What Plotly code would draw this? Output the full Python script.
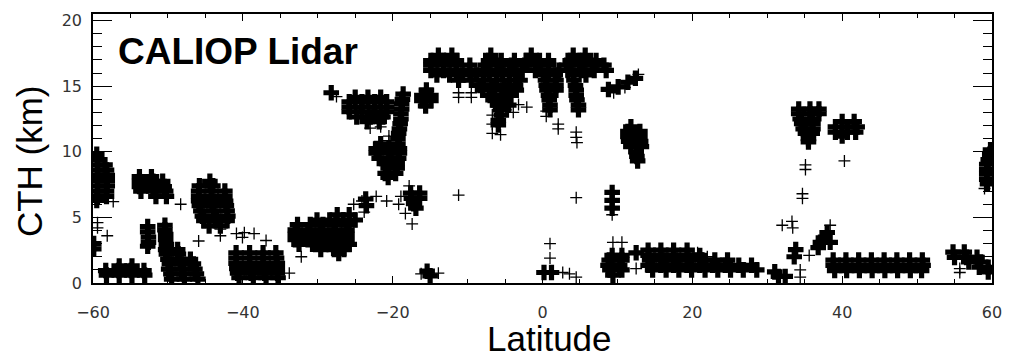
import plotly.graph_objects as go

# ---------------- data ----------------
# Dense cloud features: rows of (CTH km, [latitudes of detections])
left_column = [(9.8, [-59.5]), (9.4, [-59.4]), (9.0, [-59.4, -58.4]), (8.6, [-59.4, -58.2]),
               (8.2, [-59.4, -58.1]), (7.8, [-59.4, -58.1]), (7.4, [-59.4, -58.1]),
               (7.0, [-59.4, -58.2]), (6.6, [-59.4, -58.2]), (6.3, [-59.5]),
               (3.0, [-59.9]), (2.6, [-59.9])]
low_58S = [(1.3, [-56.5, -54.8]), (0.95, [-58.3, -56.6, -54.9, -53.2]), (0.6, [-58.2, -56.5, -54.8, -53.1])]
mid_52S = [(8.1, [-53.8, -52.2]), (7.75, [-53.8, -52.0, -50.7]), (7.35, [-53.8, -52.0, -50.5]),
           (7.0, [-53.6, -51.9, -50.3]), (6.6, [-51.6, -50.2])]
col_52S = [(4.3, [-52.7]), (3.9, [-52.7]), (3.5, [-52.6]), (3.1, [-52.6]), (2.8, [-52.7])]
slope_50S = [(4.4, [-50.4]), (4.05, [-50.4]), (3.7, [-50.3]), (3.3, [-50.3]), (2.95, [-50.2]),
             (2.55, [-50.3, -48.7]), (2.2, [-50.2, -48.6]), (1.8, [-50.0, -48.4, -47.0]),
             (1.45, [-49.8, -48.2, -46.6]), (1.05, [-49.9, -48.2, -46.4]),
             (0.7, [-49.6, -47.9, -46.2]), (0.3, [-49.5, -47.8, -46.0])]
mid_44S = [(7.75, [-44.4]), (7.4, [-45.8, -44.0]), (7.0, [-45.9, -44.2, -42.4]),
           (6.6, [-45.9, -44.2, -42.4]), (6.25, [-45.9, -44.2, -42.3]), (5.9, [-45.8, -44.1, -42.2]),
           (5.5, [-45.6, -43.9, -42.1]), (5.1, [-45.4, -43.7, -42.0]), (4.75, [-45.2, -43.5, -42.1]),
           (4.35, [-44.5, -43.0])]
low_38S = [(2.3, [-40.9, -39.1, -37.3, -35.6]), (1.9, [-40.9, -39.1, -37.3, -35.5]),
           (1.5, [-40.9, -39.1, -37.3, -35.4]), (1.1, [-40.8, -39.0, -37.2, -35.4]),
           (0.75, [-40.7, -38.9, -37.1, -35.4]), (0.4, [-40.5, -38.6, -36.9, -35.3])]
rise_30S = [(5.2, [-27.4, -25.8]), (4.8, [-30.1, -28.4, -26.6, -25.0]),
            (4.45, [-32.7, -31.0, -29.3, -27.6, -25.8]), (4.05, [-33.0, -31.3, -29.6, -27.8, -26.1]),
            (3.7, [-33.0, -31.3, -29.6, -27.8, -26.1]), (3.3, [-33.0, -31.3, -29.6, -27.8, -26.1]),
            (2.95, [-32.5, -30.7, -29.0, -27.3, -25.8]), (2.55, [-29.6, -27.8, -26.5]), (2.25, [-27.2])]
mid_20S = [(6.4, [-23.6]), (5.9, [-23.5]), (6.85, [-17.6, -16.4]), (6.45, [-17.5, -16.4]),
           (6.05, [-17.2]), (5.7, [-16.9]), (0.9, [-15.4]), (0.55, [-15.0])]
high_25S = [(14.5, [-28.2]), (14.15, [-25.0, -23.3, -21.6]), (13.8, [-25.8, -24.1, -22.4, -20.8]),
            (13.4, [-25.8, -24.1, -22.4, -20.8]), (13.05, [-25.8, -24.1, -22.4, -20.8]),
            (12.65, [-24.8, -23.0, -21.3]), (12.3, [-23.4, -21.8])]
column_19S = [(14.4, [-18.6]), (14.0, [-18.7]), (13.65, [-18.8]), (13.25, [-18.8]), (12.9, [-18.9]),
              (12.5, [-18.9]), (12.15, [-19.0]), (11.75, [-19.1]), (11.4, [-19.2]), (11.0, [-19.3]),
              (10.6, [-21.6, -19.3]), (10.25, [-22.2, -20.5, -19.1]), (9.9, [-22.2, -20.5, -19.1]),
              (9.5, [-21.8, -20.2, -19.2]), (9.1, [-20.8, -19.4]), (8.75, [-20.6, -19.4]),
              (8.35, [-21.0, -19.6]), (8.05, [-20.6])]
high_15S = [(14.7, [-15.5]), (14.3, [-16.1, -14.9]), (13.9, [-16.1, -14.9]), (13.5, [-15.6])]
high_band = [(17.35, [-13.9, -12.1, -6.9, -1.5, 4.1, 5.7]),
             (16.95, [-14.9, -13.2, -11.5, -7.2, -5.5, -3.75, -2.1, -0.4, 0.8, 3.7, 5.4, 7.15]),
             (16.6, [-14.9, -13.2, -11.5, -9.7, -7.6, -5.9, -4.15, -2.4, -0.95, 0.8, 3.2, 4.9, 6.6, 8.2]),
             (16.2, [-14.9, -13.2, -11.5, -9.7, -7.9, -6.1, -4.4, -2.7, -0.95, 0.8, 2.2, 3.4, 5.2, 6.9, 8.5]),
             (15.85, [-14.1, -12.4, -10.7, -8.8, -7.1, -5.35, -3.6, 0.1, 1.7, 4.1, 5.8]),
             (15.45, [-11.2, -9.5, -7.8, -6.1, -4.4, -3.0, 0.4, 1.8, 4.2]),
             (15.05, [-8.3, -6.7, -5.1, -3.6, 0.5, 1.8, 4.4]),
             (14.7, [-8.0, -6.4, -4.8, -3.5, 0.6, 1.8, 4.5]),
             (14.3, [-7.0, -5.4, -4.2, 0.8, 4.5]), (13.95, [-6.6, -5.0, 0.9, 4.6]),
             (13.55, [-6.0, -4.5, 1.0, 4.8]), (13.2, [-5.6, 1.0, 4.8]), (12.8, [-5.5]),
             (12.4, [-5.9]), (12.05, [-5.9]),
             (14.75, [8.8]), (14.95, [10.1]), (15.3, [11.4]), (15.6, [12.4])]
high_12N = [(11.9, [11.8]), (11.55, [11.4, 13.0]), (11.15, [11.4, 13.0]), (10.8, [11.5, 13.1]),
            (10.4, [11.8, 13.2]), (10.0, [12.5]), (9.65, [12.6]), (9.3, [12.7])]
low_eq = [(0.8, [0.2, 1.2]), (6.9, [9.3]), (6.3, [9.3]), (5.7, [9.3]),
          (2.1, [9.3, 10.6]), (1.75, [8.9, 10.6]), (1.35, [8.75, 10.3]), (1.0, [9.0, 10.6]),
          (0.6, [9.4]), (2.3, [12.5])]
low_20N = [(2.5, [14.1, 15.8, 17.5, 19.3]), (2.1, [14.1, 15.8, 17.5, 19.3, 21.0]),
           (1.75, [14.3, 16.1, 17.8, 19.5, 21.3, 23.0, 24.7]),
           (1.35, [14.1, 15.8, 17.5, 19.3, 21.0, 22.7, 24.4, 26.2, 27.9]),
           (1.0, [14.7, 16.5, 18.2, 19.9, 21.7, 23.4, 25.1, 26.8, 28.6]),
           (0.85, [31.0]), (0.5, [31.5, 32.4]), (2.55, [33.8]), (2.0, [33.6])]
high_35N = [(13.25, [34.2, 35.7, 36.9]), (12.9, [34.2, 35.7, 36.9]), (12.5, [34.4, 36.0]),
            (12.15, [34.6, 36.1]), (11.75, [34.8, 36.1]), (11.4, [35.1, 36.0]), (11.0, [35.5]),
            (10.75, [35.5]),
            (12.3, [40.0, 41.6]), (11.9, [39.1, 40.7, 42.0]), (11.5, [39.1, 40.7, 41.8]), (11.2, [40.0])]
low_45N = [(3.85, [38.0]), (3.45, [37.5]), (3.1, [37.1, 38.4]), (2.7, [36.8]),
           (1.75, [38.8, 40.5, 42.2, 43.9, 45.6, 47.3, 49.0, 50.7]),
           (1.35, [38.8, 40.5, 42.2, 43.9, 45.6, 47.3, 49.0, 50.8]),
           (0.95, [39.0, 40.6, 42.3, 44.0, 45.7, 47.4, 49.1, 50.6])]
edge_60N = [(2.35, [54.8, 56.3]), (1.95, [55.0, 56.6, 58.0]), (1.6, [56.9, 58.5]), (1.2, [58.3, 59.5]),
            (0.85, [59.5]),
            (10.15, [59.8]), (9.8, [59.7]), (9.4, [59.5]), (9.05, [59.3]), (8.65, [59.3]),
            (8.3, [59.3]), (7.9, [59.3]), (7.55, [59.4])]

# Isolated single detections
single_lat = [-57.3, -59.4, -59.4, -58.1, -48.3, -45.9, -43.0, -43.0, -40.85, -39.8, -38.5, -36.9,
              -40.05, -33.8, -32.2, -25.2, -24.1, -22.2, -20.8, -18.9, -19.2, -23.8, -17.8, -17.4,
              -18.3, -13.9, -16.2, -27.5, -23.0, -21.6, -20.5, -20.5, -11.2, -11.2, -9.5, -9.5, -7.3,
              -6.7, -6.7, -6.7, -5.6, -4.9, -3.9, -3.2, -2.1, 0.5, 0.5, 2.1, 2.1, 4.5, 4.5, 4.6,
              9.5, 11.0, 12.8, -11.2, 4.5, 1.0, 1.0, 2.7, 3.6, 4.5, 9.3, 9.4, 10.6, 12.5, 22.0,
              20.7, 34.4, 34.4, 32.0, 33.3, 33.4, 34.7, 34.7, 35.1, 35.1, 40.3, 38.4, 35.6, 55.7,
              55.7, 59.0]
single_cth = [6.2, 4.6, 4.2, 3.6, 6.0, 3.2, 4.1, 3.6, 3.77, 3.84, 3.77, 3.24,
              3.47, 0.75, 2.0, 6.0, 6.25, 6.6, 6.25, 6.6, 6.0, 5.4, 7.4, 4.5,
              5.3, 0.75, 0.7, 14.2, 11.8, 11.9, 11.2, 10.85, 14.5, 14.15, 14.5, 14.15, 14.3,
              12.8, 12.1, 11.4, 11.3, 13.2, 13.0, 13.6, 13.4, 13.1, 12.7, 12.1, 11.75, 11.5, 11.1, 10.7,
              14.5, 14.9, 15.9, 6.7, 6.5, 3.0, 1.9, 0.8, 0.7, 0.45, 5.2, 3.1, 3.1, 1.1, 2.0,
              2.3, 1.0, 0.45, 4.4, 4.7, 4.2, 6.8, 6.45, 9.0, 8.65, 9.3, 4.4, 2.1, 1.1,
              0.8, 7.2]

x_ticks = [-60, -40, -20, 0, 20, 40, 60]
y_ticks = [0, 5, 10, 15, 20]

features = [left_column, low_58S, mid_52S, col_52S, slope_50S, mid_44S, low_38S, rise_30S, mid_20S,
            high_25S, column_19S, high_15S, high_band, high_12N, low_eq, low_20N, high_35N, low_45N,
            edge_60N]

dense_lat, dense_cth = [], []
for feat in features:
    for c, row in feat:
        for la in row:
            dense_lat.append(la)
            dense_cth.append(c)

fig = go.Figure()
fig.add_trace(go.Scatter(
    x=dense_lat, y=dense_cth, mode="markers",
    marker=dict(symbol="cross", size=13, color="black", line=dict(width=0)),
    hoverinfo="x+y"))
fig.add_trace(go.Scatter(
    x=single_lat, y=single_cth, mode="markers",
    marker=dict(symbol="cross-thin", size=8.5, color="black", line=dict(width=1.3, color="black")),
    hoverinfo="x+y"))

tick_font = dict(family="DejaVu Sans", size=16, color="#333333")
fig.update_xaxes(range=[-60, 60], tickvals=x_ticks, ticks="inside", ticklen=7, tickwidth=1,
                 tickcolor="black", showline=True, linecolor="black", linewidth=1.5, mirror="ticks",
                 minor=dict(dtick=5, tick0=-60, ticks="inside", ticklen=4, tickwidth=1, tickcolor="black"),
                 showgrid=False, zeroline=False, tickfont=tick_font, ticklabelstandoff=14)
fig.update_yaxes(range=[0, 20.5], tickvals=y_ticks, ticks="inside", ticklen=19, tickwidth=1,
                 tickcolor="black", showline=True, linecolor="black", linewidth=1.5, mirror="ticks",
                 minor=dict(dtick=1, tick0=0, ticks="inside", ticklen=9, tickwidth=1, tickcolor="black"),
                 showgrid=False, zeroline=False, tickfont=tick_font, ticklabelstandoff=6)

title_font = "Liberation Sans, Arial, Helvetica, sans-serif"
fig.update_layout(
    width=1013, height=361,
    margin=dict(l=93, r=17, t=11, b=78),
    paper_bgcolor="white", plot_bgcolor="white",
    showlegend=False,
    annotations=[
        dict(text="<b>CALIOP Lidar</b>", xref="paper", yref="paper", x=0.026, y=0.862,
             xanchor="left", yanchor="middle", showarrow=False,
             font=dict(family=title_font, size=37, color="black")),
        dict(text="Latitude", xref="paper", yref="paper", x=0.508, y=-0.2868,
             xanchor="center", yanchor="bottom", showarrow=False,
             font=dict(family=title_font, size=35, color="black")),
        dict(text="CTH (km)", xref="paper", yref="paper", x=-0.0698, y=0.454, textangle=-90,
             xanchor="center", yanchor="middle", showarrow=False,
             font=dict(family=title_font, size=35, color="black")),
    ],
)

fig.write_html("out.html")
